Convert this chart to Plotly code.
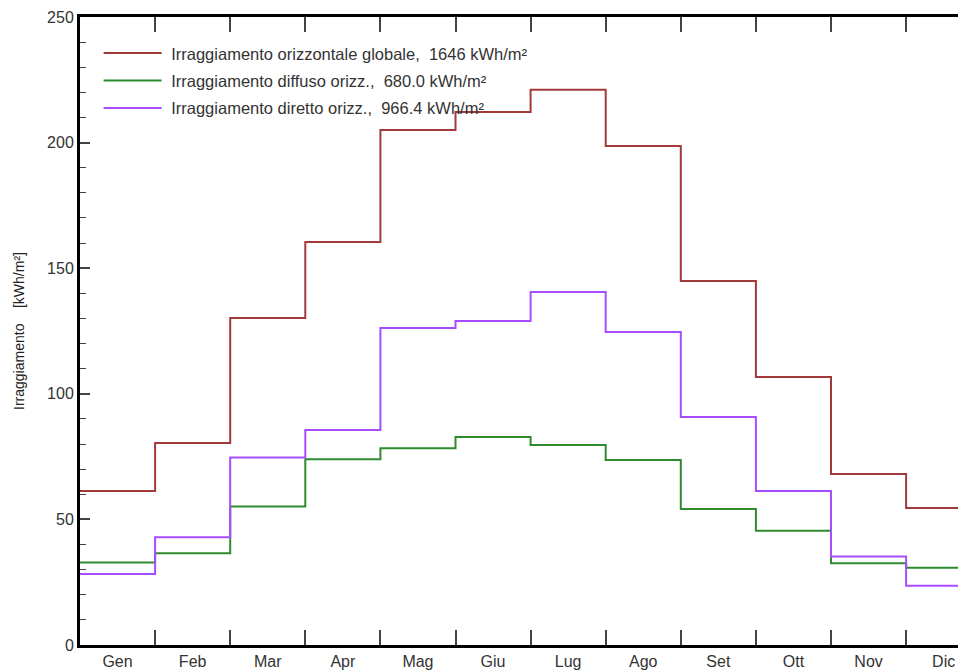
import plotly.graph_objects as go

months = ["Gen", "Feb", "Mar", "Apr", "Mag", "Giu", "Lug", "Ago", "Set", "Ott", "Nov", "Dic"]
globale = [61.3, 80.4, 130.2, 160.4, 205.0, 212.2, 221.0, 198.6, 144.9, 106.7, 68.1, 54.5]
diffuso = [32.8, 36.5, 55.1, 73.9, 78.3, 82.8, 79.6, 73.6, 54.1, 45.5, 32.5, 30.8]
diretto = [28.3, 42.9, 74.6, 85.6, 126.2, 129.0, 140.5, 124.6, 90.8, 61.3, 35.2, 23.6]
names = ["Irraggiamento orizzontale globale,  1646 kWh/m²",
         "Irraggiamento diffuso orizz.,  680.0 kWh/m²",
         "Irraggiamento diretto orizz.,  966.4 kWh/m²"]
colors = ["#a33a3a", "#2e8b2e", "#a64dff"]

n = len(months)
xs = list(range(n + 1))

fig = go.Figure()
for i, (vals, name, col) in enumerate(zip([globale, diffuso, diretto], names, colors)):
    fig.add_trace(go.Scatter(
        x=xs, y=vals + [vals[-1]], mode="lines", line_shape="hv",
        line=dict(color=col, width=2), name="\u00a0" + name, legendgroup=f"g{i}",
    ))

font = "Liberation Sans, Arial, sans-serif"
fig.update_layout(
    width=958, height=663,
    margin=dict(l=72, r=0, t=9, b=26),
    plot_bgcolor="white", paper_bgcolor="white",
    font=dict(family=font, size=16, color="#333"),
    showlegend=True,
    legend=dict(x=0.021, y=0.970, xanchor="left", yanchor="top",
                bgcolor="rgba(0,0,0,0)", font=dict(size=16.5, color="#333"),
                tracegroupgap=3, itemwidth=58),
    xaxis=dict(
        range=[0, (966 - 80) / 75.1], showgrid=False, zeroline=False,
        showline=True, linecolor="black", linewidth=3, mirror="allticks",
        tickmode="array", tickvals=[i + 0.5 for i in range(n)], ticktext=months,
        ticks="", tickfont=dict(size=16, color="#333"),
        minor=dict(tickmode="array", tickvals=list(range(1, n + 1)), ticks="inside",
                   ticklen=15, tickwidth=1.5, tickcolor="#444"),
    ),
    yaxis=dict(
        range=[0, 250], showgrid=False, zeroline=False,
        showline=True, linecolor="black", linewidth=3,
        tickmode="array", tickvals=[0, 50, 100, 150, 200, 250],
        ticks="inside", ticklen=10, tickwidth=1.5, tickcolor="#444",
        tickfont=dict(size=16, color="#333"),
        minor=dict(dtick=10, ticks="inside", ticklen=6, tickwidth=1, tickcolor="#444"),
        title=dict(text="Irraggiamento    [kWh/m²]", font=dict(size=14, color="#222"), standoff=20),
    ),
)

fig.write_html("out.html")
